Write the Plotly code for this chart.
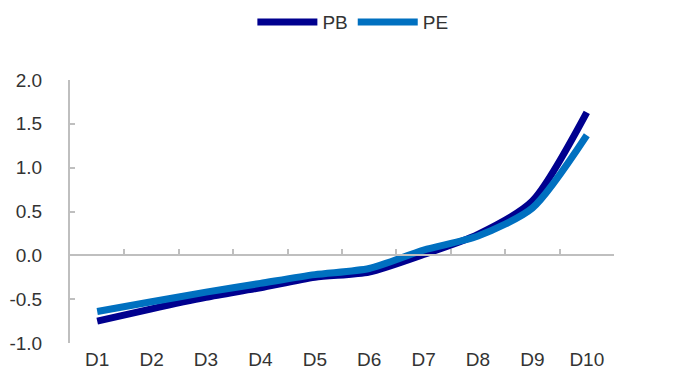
import plotly.graph_objects as go

categories = ["D1", "D2", "D3", "D4", "D5", "D6", "D7", "D8", "D9", "D10"]
pb_values = [-0.75, -0.61, -0.48, -0.37, -0.25, -0.19, 0.01, 0.24, 0.62, 1.63]
pe_values = [-0.64, -0.53, -0.42, -0.32, -0.22, -0.15, 0.06, 0.22, 0.54, 1.37]
y_ticks = [-1.0, -0.5, 0.0, 0.5, 1.0, 1.5, 2.0]

PB_COLOR = "#00008F"
PE_COLOR = "#0070C0"
AXIS_GRAY = "#BFBFBF"
TEXT = "#333333"
FONT = "Liberation Sans, Arial, sans-serif"

fig = go.Figure()
fig.add_trace(go.Scatter(x=categories, y=pb_values, name="PB", mode="lines",
                         line=dict(color=PB_COLOR, width=7, shape="spline", smoothing=0.7)))
fig.add_trace(go.Scatter(x=categories, y=pe_values, name="PE", mode="lines",
                         line=dict(color=PE_COLOR, width=7, shape="spline", smoothing=0.7)))
# invisible trace on the crossing axis to draw boundary tick marks at y = 0
fig.add_trace(go.Scatter(x=categories, y=[None] * len(categories), xaxis="x2",
                         showlegend=False, hoverinfo="skip"))

fig.update_layout(
    width=691, height=379,
    margin=dict(l=62, r=85, t=72, b=44, autoexpand=False),
    paper_bgcolor="white", plot_bgcolor="white",
    font=dict(family=FONT, size=19, color=TEXT),
    showlegend=True,
    legend=dict(orientation="h", x=0.52, xanchor="center", y=1.22, yanchor="middle",
                font=dict(size=19, color=TEXT), itemwidth=60, traceorder="normal"),
    xaxis=dict(type="category", categoryorder="array", categoryarray=categories,
               showline=False, showgrid=False, zeroline=False, ticks="",
               tickfont=dict(size=19, color=TEXT), ticklabelstandoff=3,
               range=[-0.5, 9.5]),
    xaxis2=dict(type="category", categoryorder="array", categoryarray=categories,
                overlaying="x", anchor="free", position=1/3, side="bottom",
                showline=True, linecolor=AXIS_GRAY, linewidth=2,
                ticks="inside", tickson="boundaries", ticklen=5, tickwidth=2,
                tickcolor=AXIS_GRAY, showticklabels=False, showgrid=False,
                zeroline=False, range=[-0.5, 9.5], matches="x"),
    yaxis=dict(range=[-1.0, 2.0], tickvals=y_ticks,
               ticktext=[f"{v:.1f}" for v in y_ticks],
               showline=True, linecolor=AXIS_GRAY, linewidth=2,
               ticks="inside", ticklen=5, tickwidth=2, tickcolor=AXIS_GRAY,
               showgrid=False, zeroline=False,
               tickfont=dict(size=19, color=TEXT), ticklabelstandoff=22),
)

fig.write_html("out.html")
